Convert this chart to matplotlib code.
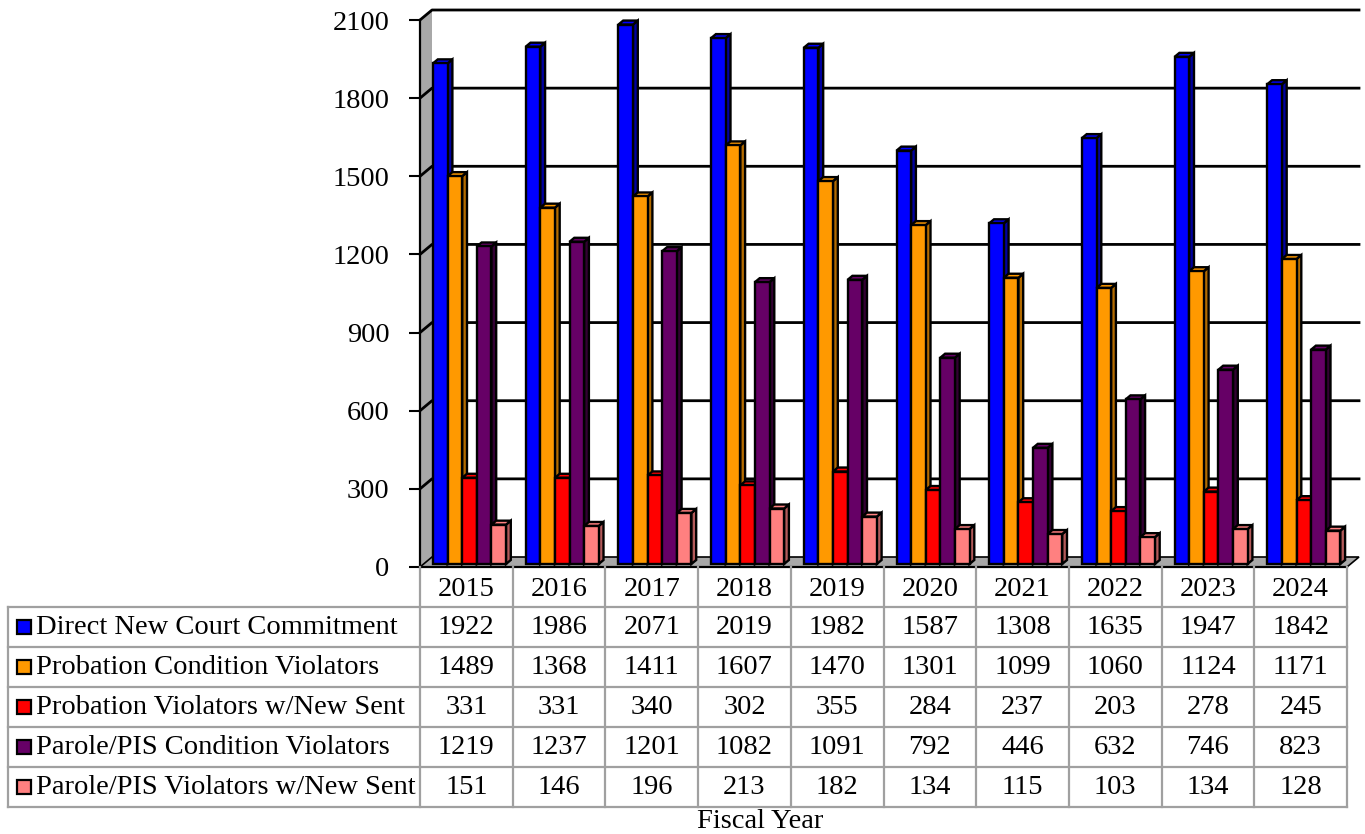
import matplotlib
matplotlib.use("Agg")
import matplotlib.pyplot as plt
from matplotlib.patches import Polygon, Rectangle
from matplotlib.lines import Line2D

# ---- data ----
years = ["2015", "2016", "2017", "2018", "2019", "2020", "2021", "2022", "2023", "2024"]
series_names = [
    "Direct New Court Commitment",
    "Probation Condition Violators",
    "Probation Violators w/New Sent",
    "Parole/PIS Condition Violators",
    "Parole/PIS Violators w/New Sent",
]
direct_new = [1922, 1986, 2071, 2019, 1982, 1587, 1308, 1635, 1947, 1842]
prob_cond = [1489, 1368, 1411, 1607, 1470, 1301, 1099, 1060, 1124, 1171]
prob_new_sent = [331, 331, 340, 302, 355, 284, 237, 203, 278, 245]
parole_cond = [1219, 1237, 1201, 1082, 1091, 792, 446, 632, 746, 823]
parole_new_sent = [151, 146, 196, 213, 182, 134, 115, 103, 134, 128]
all_series = [direct_new, prob_cond, prob_new_sent, parole_cond, parole_new_sent]
y_ticks = [0, 300, 600, 900, 1200, 1500, 1800, 2100]

face_colors = ["#0000ff", "#ff9900", "#ff0000", "#660066", "#ff8080"]
side_colors = ["#0000a0", "#b36b00", "#b30000", "#330033", "#b35a5a"]

FONT = "Liberation Serif"
FS = 20.5

W, H, DPI = 1365, 834, 100
fig = plt.figure(figsize=(W / DPI, H / DPI), dpi=DPI)

# plot area (front plane) in pixels
PL, PR, PT, PB = 420, 1347, 20, 567
ax = fig.add_axes([PL / W, 1 - PB / H, (PR - PL) / W, (PB - PT) / H])
n = len(years)
ymax = 2100
ax.set_xlim(0, n)
ax.set_ylim(0, ymax)
for s in ax.spines.values():
    s.set_visible(False)
ax.set_xticks([])
ax.set_yticks(y_ticks)
ax.set_yticklabels([str(t) for t in y_ticks], fontfamily=FONT, fontsize=FS)
ax.tick_params(axis="y", length=8, width=1.5, pad=14, direction="out")

# pixel -> data unit conversion for the oblique depth
px_x = n / (PR - PL)
px_y = ymax / (PB - PT)
DEPTH_PX_X, DEPTH_PX_Y = 12, 10


def dep(x, y, f):
    return (x + f * DEPTH_PX_X * px_x, y + f * DEPTH_PX_Y * px_y)


LW = 1.7
# left wall
ax.add_patch(Polygon([dep(0, 0, 0), dep(0, 0, 1), dep(0, ymax, 1), dep(0, ymax, 0)],
                     closed=True, facecolor="#a8a8a8", edgecolor="none", clip_on=False, zorder=1))
# floor
ax.add_patch(Polygon([dep(0, 0, 0), dep(0, 0, 1), dep(n, 0, 1), dep(n, 0, 0)],
                     closed=True, facecolor="#a8a8a8", edgecolor="black", lw=1.2,
                     clip_on=False, zorder=1))
# gridlines on side and back wall
for t in y_ticks[1:]:
    pts = [dep(0, t, 0), dep(0, t, 1), dep(n, t, 1)]
    ax.add_line(Line2D([p[0] for p in pts], [p[1] for p in pts], color="black",
                       lw=2.0, clip_on=False, zorder=2))
# axis lines
ax.add_line(Line2D([0, 0], [0, ymax], color="black", lw=1.6, clip_on=False, zorder=3))
ax.add_line(Line2D([0, n], [0, 0], color="black", lw=1.6, clip_on=False, zorder=3))

# bars
GROUP_OFF = 9.4 / (PR - PL) * n
BAR_W = 14.6 / (PR - PL) * n
F0, F1 = 0.3, 0.7
z = 4
for i in range(n):
    for j, vals in enumerate(all_series):
        v = vals[i]
        x0 = i + GROUP_OFF + j * BAR_W
        x1 = x0 + BAR_W
        side = Polygon([dep(x1, 0, F0), dep(x1, v, F0), dep(x1, v, F1), dep(x1, 0, F1)],
                       closed=True, facecolor=side_colors[j], edgecolor="black", lw=LW,
                       clip_on=False, zorder=z, joinstyle="miter")
        top = Polygon([dep(x0, v, F0), dep(x1, v, F0), dep(x1, v, F1), dep(x0, v, F1)],
                      closed=True, facecolor=face_colors[j], edgecolor="black", lw=LW,
                      clip_on=False, zorder=z, joinstyle="miter")
        front = Polygon([dep(x0, 0, F0), dep(x1, 0, F0), dep(x1, v, F0), dep(x0, v, F0)],
                        closed=True, facecolor=face_colors[j], edgecolor="black", lw=LW,
                        clip_on=False, zorder=z + 0.5, joinstyle="miter")
        ax.add_patch(side)
        ax.add_patch(top)
        ax.add_patch(front)
        z += 1

# ---- data table ----
tax = fig.add_axes([0, 0, 1, 1])
tax.set_xlim(0, W)
tax.set_ylim(H, 0)
tax.axis("off")
tax.patch.set_alpha(0)

GRID = "#a0a0a0"
TLW = 1.6
TL = 8
HEAD_TOP, ROW0 = 567, 607
ROW_H = 40
nrows = len(all_series)
TB = ROW0 + nrows * ROW_H
col_w = (PR - PL) / n

# horizontal lines
tax.plot([TL, PR], [ROW0, ROW0], color=GRID, lw=TLW)
for r in range(1, nrows + 1):
    y = ROW0 + r * ROW_H
    tax.plot([TL, PR], [y, y], color=GRID, lw=TLW)
# vertical lines
tax.plot([TL, TL], [ROW0, TB], color=GRID, lw=TLW)
for c in range(n + 1):
    x = PL + c * col_w
    tax.plot([x, x], [HEAD_TOP, TB], color=GRID, lw=TLW)

# header years
for c, yr in enumerate(years):
    tax.text(PL + (c + 0.5) * col_w, (HEAD_TOP + ROW0) / 2 + 3, yr, ha="center", va="center",
             fontfamily=FONT, fontsize=FS)

# rows
for r, (name, vals) in enumerate(zip(series_names, all_series)):
    yc = ROW0 + (r + 0.5) * ROW_H
    tax.add_patch(Rectangle((17, yc - 7), 14, 14, facecolor=face_colors[r],
                            edgecolor="black", lw=1.6))
    tax.text(36, yc + 1, name, ha="left", va="center", fontfamily=FONT, fontsize=FS)
    for c, v in enumerate(vals):
        tax.text(PL + (c + 0.5) * col_w, yc + 1, str(v), ha="center", va="center",
                 fontfamily=FONT, fontsize=FS)

tax.text(760, 821, "Fiscal Year", ha="center", va="center", fontfamily=FONT, fontsize=FS)

fig.savefig("out.png", dpi=DPI)
